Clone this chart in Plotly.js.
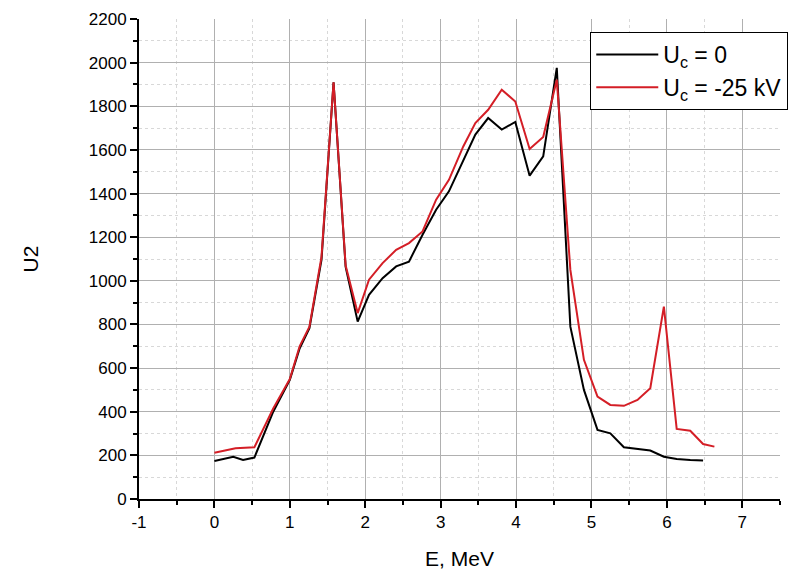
<!DOCTYPE html>
<html>
<head>
<meta charset="utf-8">
<script src="https://cdn.plot.ly/plotly-3.0.1.min.js"></script>
<style>html,body{margin:0;padding:0;background:#fff;}#chart{width:800px;height:577px;}</style>
</head>
<body>
<div id="chart"></div>
<script>
const energyBlack = [0.00, 0.25, 0.38, 0.53, 0.78, 1.00, 1.13, 1.26, 1.42, 1.58, 1.74, 1.90, 2.05, 2.23, 2.41, 2.58, 2.76, 2.94, 3.11, 3.30, 3.46, 3.63, 3.81, 3.99, 4.18, 4.36, 4.54, 4.72, 4.90, 5.08, 5.25, 5.43, 5.61, 5.78, 5.96, 6.13, 6.31, 6.48];
const countsBlack = [174, 193, 179, 190, 400, 546, 690, 783, 1096, 1910, 1064, 813, 936, 1012, 1066, 1088, 1211, 1326, 1410, 1555, 1670, 1746, 1693, 1728, 1482, 1570, 1976, 790, 500, 317, 301, 237, 228, 222, 194, 183, 179, 177];
const energyRed = [0.00, 0.28, 0.53, 0.78, 1.00, 1.13, 1.26, 1.42, 1.58, 1.74, 1.90, 2.05, 2.23, 2.41, 2.58, 2.76, 2.94, 3.11, 3.30, 3.46, 3.63, 3.81, 3.99, 4.18, 4.36, 4.54, 4.72, 4.90, 5.08, 5.25, 5.43, 5.61, 5.78, 5.96, 6.13, 6.31, 6.48, 6.63];
const countsRed = [212, 233, 237, 415, 550, 700, 790, 1110, 1910, 1070, 852, 1005, 1081, 1142, 1173, 1226, 1372, 1463, 1616, 1723, 1784, 1876, 1822, 1604, 1659, 1922, 1050, 638, 469, 431, 427, 454, 508, 882, 321, 313, 252, 240];
const seriesNames = ['U<sub>c</sub> = 0', 'U<sub>c</sub> = -25 kV'];
const xTicks = [-1, 0, 1, 2, 3, 4, 5, 6, 7];
const yTicks = [0, 200, 400, 600, 800, 1000, 1200, 1400, 1600, 1800, 2000, 2200];

const traces = [
  {x: energyBlack, y: countsBlack, name: seriesNames[0], mode: 'lines', line: {color: '#000000', width: 2}},
  {x: energyRed, y: countsRed, name: seriesNames[1], mode: 'lines', line: {color: 'rgb(212,30,38)', width: 2}}
];

const layout = {
  width: 800, height: 577,
  margin: {l: 139, r: 16, t: 19, b: 78},
  paper_bgcolor: '#fff', plot_bgcolor: '#fff',
  font: {family: 'Liberation Sans, Arial, sans-serif', color: '#000', size: 17},
  showlegend: true,
  legend: {
    x: 0.704, y: 0.973, xanchor: 'left', yanchor: 'top',
    bordercolor: '#000', borderwidth: 1, bgcolor: '#fff',
    font: {size: 23}, itemwidth: 62, tracegroupgap: 0
  },
  xaxis: {
    range: [-1, 7.5], tickvals: xTicks, ticktext: xTicks.map(String),
    showline: true, linecolor: '#000', linewidth: 2,
    ticks: 'outside', ticklen: 7, tickwidth: 2, tickcolor: '#000',
    showgrid: true, gridcolor: '#b0b0b0', gridwidth: 1,
    minor: {dtick: 0.5, ticks: 'outside', ticklen: 4, tickwidth: 2, tickcolor: '#000', showgrid: true, gridcolor: '#d8d8d8', griddash: 'dot', gridwidth: 1},
    zeroline: false,
    tickfont: {size: 17},
    title: {text: 'E, MeV', font: {size: 21}, standoff: 20}
  },
  yaxis: {
    range: [0, 2200], tickvals: yTicks, ticktext: yTicks.map(String),
    showline: true, linecolor: '#000', linewidth: 2,
    ticks: 'outside', ticklen: 7, tickwidth: 2, tickcolor: '#000',
    showgrid: true, gridcolor: '#b0b0b0', gridwidth: 1,
    minor: {dtick: 100, ticks: 'outside', ticklen: 4, tickwidth: 2, tickcolor: '#000', showgrid: true, gridcolor: '#d8d8d8', griddash: 'dot', gridwidth: 1},
    zeroline: false,
    tickfont: {size: 17},
    title: {text: 'U2', font: {size: 21}, standoff: 44}
  }
};

Plotly.newPlot('chart', traces, layout, {displayModeBar: false, staticPlot: true});
</script>
</body>
</html>
